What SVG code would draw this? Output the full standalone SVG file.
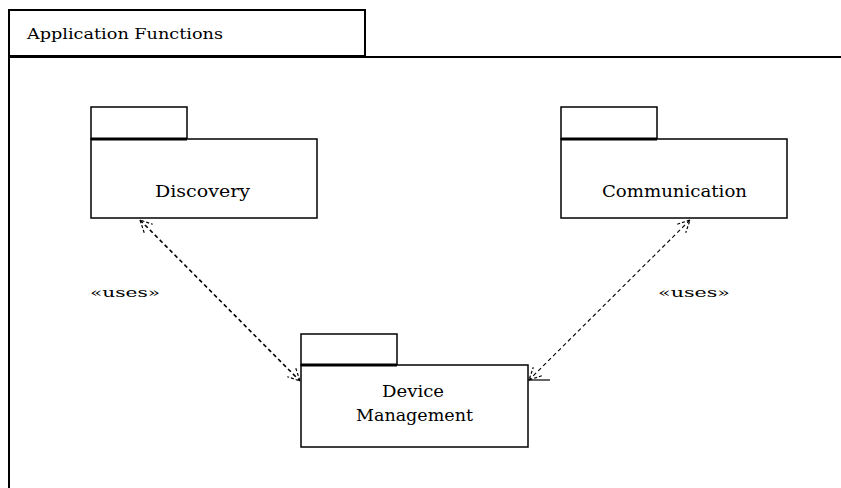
<svg xmlns="http://www.w3.org/2000/svg" width="841" height="488" viewBox="0 0 841 488">
<style>
.box{fill:#fff;stroke:#000;stroke-width:1.5}
.tabline{stroke:#000;stroke-width:3}
.t{font-family:"DejaVu Serif","Liberation Serif",serif;font-size:16px;fill:#000}
.lbl{font-family:"DejaVu Serif","Liberation Serif",serif;font-size:12px;fill:#000}
.dep{fill:none;stroke:#000;stroke-dasharray:4 3}
</style>
<defs>
<marker id="open" viewBox="0 0 14 14" refX="13" refY="7" markerWidth="14" markerHeight="14" markerUnits="userSpaceOnUse" orient="auto-start-reverse">
<path d="M1,1 L13,7 L1,13" fill="none" stroke="#000" stroke-width="1.2" stroke-dasharray="3 2"/>
</marker>
</defs>
<rect width="841" height="488" fill="#fff"/>
<g id="frame">
<rect x="9" y="10" width="356" height="46" fill="#fff" stroke="#000" stroke-width="2"/>
<path d="M9,56 V488 M9,57 H841" stroke="#000" stroke-width="2" fill="none"/>
<text class="t" x="27" y="39" textLength="196" lengthAdjust="spacingAndGlyphs" style="font-size:15px">Application Functions</text>
</g>
<g id="discovery">
<rect class="box" x="91" y="107" width="96" height="32"/>
<rect class="box" x="91" y="139" width="226" height="79"/>
<line class="tabline" x1="91" y1="139" x2="187" y2="139"/>
<text class="t" x="155" y="197" textLength="95" lengthAdjust="spacingAndGlyphs">Discovery</text>
</g>
<g id="communication">
<rect class="box" x="561" y="107" width="96" height="32"/>
<rect class="box" x="561" y="139" width="226" height="79"/>
<line class="tabline" x1="561" y1="139" x2="657" y2="139"/>
<text class="t" x="602" y="197" textLength="145" lengthAdjust="spacingAndGlyphs">Communication</text>
</g>
<g id="device-management">
<rect class="box" x="301" y="334" width="96" height="31"/>
<rect class="box" x="301" y="365" width="227" height="82"/>
<line class="tabline" x1="301" y1="365" x2="397" y2="365"/>
<text class="t" x="382" y="397" textLength="62" lengthAdjust="spacingAndGlyphs">Device</text>
<text class="t" x="356" y="421" textLength="117" lengthAdjust="spacingAndGlyphs">Management</text>
</g>
<g id="connectors">
<line class="dep" x1="140" y1="220" x2="300" y2="381" stroke-width="1.6" marker-start="url(#open)" marker-end="url(#open)"/>
<line class="dep" x1="690" y1="220" x2="529" y2="380" stroke-width="1.1" marker-start="url(#open)" marker-end="url(#open)"/>
<line x1="528" y1="380" x2="550" y2="380" stroke="#000" stroke-width="1.2"/>
<text class="lbl" x="90" y="297" textLength="70" lengthAdjust="spacingAndGlyphs">«uses»</text>
<text class="lbl" x="658" y="297" textLength="72" lengthAdjust="spacingAndGlyphs">«uses»</text>
</g>
</svg>
